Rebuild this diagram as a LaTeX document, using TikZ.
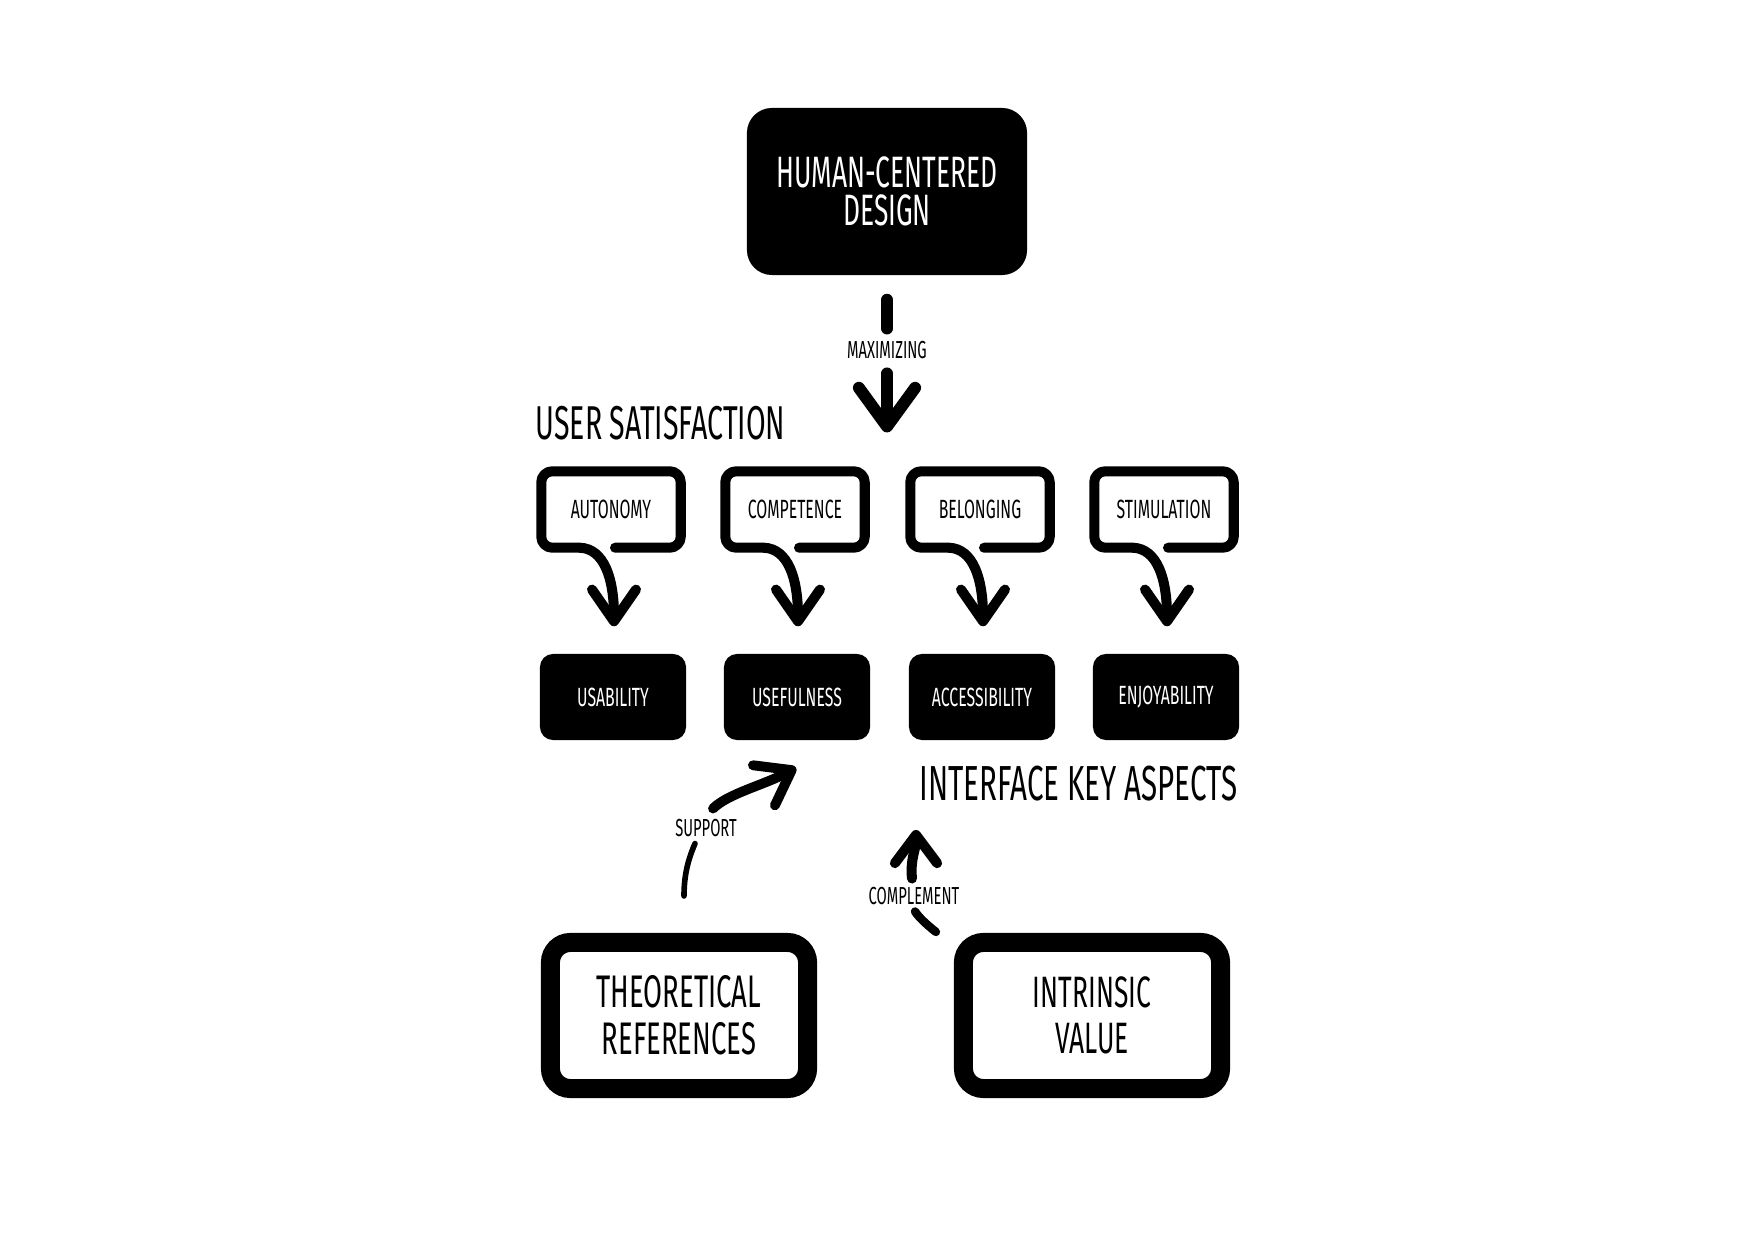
\documentclass[tikz,border=0pt]{standalone}
\usepackage{fontspec}
\setmainfont{Fira Sans}[FakeStretch=0.6]
\usetikzlibrary{arrows.meta,calc}
\begin{document}
\begin{tikzpicture}[x=0.01cm,y=-0.01cm,
  lbl/.style={inner sep=0pt, text=black},
  tinylbl/.style={lbl, font=\fontsize{7}{8}\selectfont},
  biglbl/.style={lbl, font=\fontsize{13.5}{14}\selectfont},
  topbox/.style={fill=black, text=white, rounded corners=0.25cm, minimum width=2.8cm, minimum height=1.67cm, align=center, font=\fontsize{12.5}{11}\selectfont, inner sep=0pt},
  keybox/.style={fill=black, text=white, rounded corners=0.13cm, minimum width=1.46cm, minimum height=0.86cm, font=\fontsize{7.5}{9}\selectfont, inner sep=0pt},
  bubble/.style={minimum width=1.38cm, minimum height=0.75cm, inner sep=0pt, font=\fontsize{7.5}{9}\selectfont},
  bubline/.style={line width=2.85pt, line join=round, line cap=round, rounded corners=0.11cm},
  bubarrow/.style={line width=2.85pt, line cap=round, -{Straight Barb[length=9pt,width=12.5pt,round]}},
  srcbox/.style={draw, line width=5.4pt, rounded corners=0.2cm, minimum width=2.57cm, minimum height=1.46cm, align=center, font=\fontsize{13}{13.5}\selectfont, inner sep=0pt},
]
\fill[white] (0,0) rectangle (1754,1240);
\useasboundingbox (0,0) rectangle (1754,1240);

% top box
\node[topbox] (hcd) at (887,191.5) {HUMAN-CENTERED\\DESIGN};
\node[tinylbl] (mx) at (887,350) {MAXIMIZING};
\draw[line width=3.4pt, line cap=round] ($(hcd.south)+(0,24)$) -- ($(mx.north)+(0,-12)$);
\draw[line width=3.4pt, line cap=round, -{Straight Barb[length=11pt,width=16pt,round]}] ($(mx.south)+(0,14)$) -- ++(0,59);

\node[biglbl, anchor=west] (usat) at (535,423) {USER SATISFACTION};

\foreach \b/\k/\cx/\t/\u in {au/ku/611/AUTONOMY/USABILITY, co/kf/795/COMPETENCE/USEFULNESS, be/ka/980/BELONGING/ACCESSIBILITY, st/ke/1164/STIMULATION/ENJOYABILITY}{
  \node[bubble] (\b) at (\cx,509.5) {\t};
  \node[keybox] (\k) at (\cx+2,697) {\u};
  \draw[bubline] ($(\b.south)+(4,0)$) -- (\b.south east) -- (\b.north east) -- (\b.north west) -- (\b.south west) -- ($(\b.south)+(-31,0)$);
  \draw[bubarrow] ($(\b.south)+(-31,0)$) .. controls +(24,1) and +(0,-48) .. ($(\k.north)+(1,-27)$);
}

\node[biglbl, anchor=west, font=\fontsize{14}{15}\selectfont] (ika) at (919,784) {INTERFACE KEY ASPECTS};

% bottom boxes
\node[srcbox] (tr) at (679,1015.5) {THEORETICAL\\REFERENCES};
\node[srcbox, font=\fontsize{12.5}{13}\selectfont] (iv) at (1092,1015.5) {INTRINSIC\\VALUE};

% support
\node[tinylbl] (sp) at (706,828) {SUPPORT};
\draw[line width=1.6pt, line cap=round] ($(tr.north)+(5,-37)$) .. controls +(0,-25) and +(-5,12) .. ($(sp.south)+(-11,6)$);
\draw[line width=2.8pt, line cap=round, -{Straight Barb[length=9pt,width=13pt,round]}] ($(sp.north)+(7,-10)$) .. controls +(15,-15) and +(-31,17) .. ($(kf.south)+(-1,27)$);

% complement
\node[tinylbl] (cm) at (914,896) {COMPLEMENT};
\coordinate (ctip) at (916,830);
\draw[line width=2.4pt, line cap=round] ($(iv.north west)+(-18,-1)$) .. controls +(-10,-8) and +(4,6) .. ($(cm.south)+(1,6)$);
\draw[line width=2.85pt, line cap=round, -{Straight Barb[length=8pt,width=12pt,round]}] ($(cm.north)+(-2,-8)$) .. controls +(-2,-20) and +(0,20) .. (ctip);
\end{tikzpicture}
\end{document}
